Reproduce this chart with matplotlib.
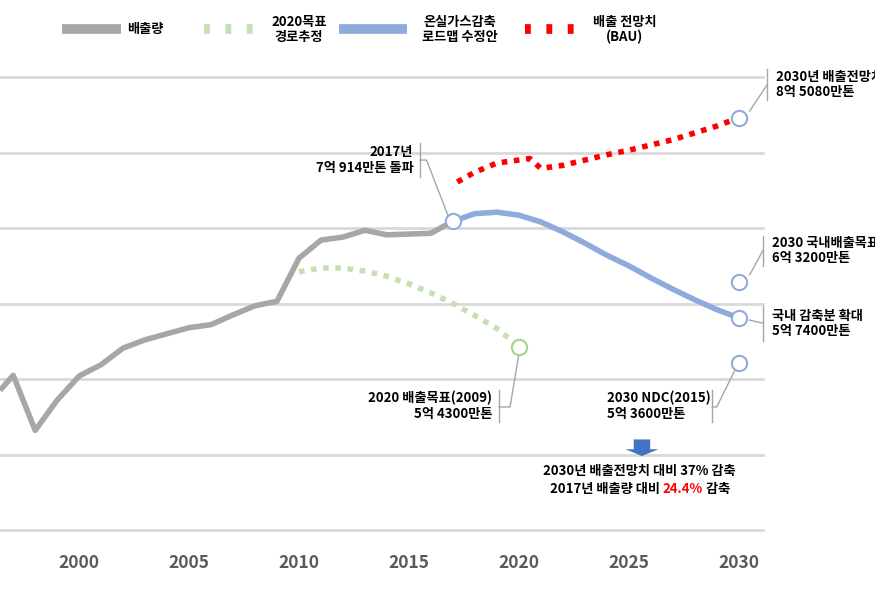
import matplotlib
matplotlib.use("Agg")
import matplotlib.pyplot as plt
from matplotlib.patches import FancyArrow

plt.rcParams["font.family"] = ["Noto Sans CJK KR", "DejaVu Sans"]

# values in Mt CO2eq
hist_years = [1996.4, 1997, 1998, 1999, 2000, 2001, 2002, 2003, 2004, 2005, 2006,
              2007, 2008, 2009, 2010, 2011, 2012, 2013, 2014, 2015, 2016, 2017]
hist_vals = [485, 505, 432, 472, 504, 519, 541, 552, 560, 568, 572,
             585, 597, 603, 660, 684, 688, 697, 691, 692, 693, 709]
target_years = [2010, 2011, 2012, 2013, 2014, 2015, 2016, 2017, 2018, 2019, 2020]
target_vals = [642, 647, 647, 643, 636, 626, 614, 600, 584, 567, 543]
road_years = [2017, 2018, 2019, 2020, 2021, 2022, 2023, 2024, 2025, 2026, 2027, 2028, 2029, 2030]
road_vals = [709, 719, 721, 717, 708, 695, 680, 664, 650, 634, 619, 605, 592, 581]
bau_years = [2017.2, 2018, 2019, 2020, 2020.5, 2021, 2022, 2023, 2024, 2025, 2026, 2027, 2028, 2029, 2030]
bau_vals = [761, 774, 786, 790, 792, 779, 783, 790, 797, 803, 810, 817, 826, 835, 846]
grid_vals = [300, 400, 500, 600, 700, 800, 900]
tick_years = [2000, 2005, 2010, 2015, 2020, 2025, 2030]

GRAY = "#aaa6a6"
GREEN = "#c6e0b4"
BLUE = "#8faadc"
RED = "#ff0000"

fig = plt.figure(figsize=(8.75, 5.93), dpi=100)
ax = fig.add_axes([0, 0, 1, 1])
ax.set_xlim(1996.4, 2036.2)
ax.set_ylim(216.6, 1002)
ax.axis("off")

for g in grid_vals:
    ax.plot([1996.4, 2031.1], [g, g], color="#d9d9d9", lw=2, zorder=1)

ax.plot(hist_years, hist_vals, color=GRAY, lw=4, zorder=3, solid_capstyle="butt")
ax.plot(target_years, target_vals, color=GREEN, lw=4, ls=(0, (1, 1.2)), zorder=3)
ax.plot(road_years, road_vals, color=BLUE, lw=4, zorder=3)
ax.plot(bau_years, bau_vals, color=RED, lw=4, ls=(0, (1, 1.2)), zorder=3)

circ = dict(marker="o", ms=11, mfc="white", mew=1.5, zorder=5, ls="none")
ax.plot([2017], [709], mec=BLUE, **circ)
ax.plot([2030, 2030, 2030, 2030], [846, 628, 581, 521], mec=BLUE, **circ)
ax.plot([2020], [543], mec="#a9d18e", **circ)

for y in tick_years:
    ax.text(y, 256, str(y), ha="center", va="center", fontsize=12.5,
            fontweight="bold", color="#595959")

fs = 9.5
lc = "#a6a6a6"


def callout(pts, bracket, text, tx, ha):
    xs, ys = zip(*pts)
    ax.plot(xs, ys, color=lc, lw=1, zorder=2)
    ax.plot([bracket[0], bracket[0]], bracket[1:], color=lc, lw=1, zorder=2)
    ax.text(tx, (bracket[1] + bracket[2]) / 2, text, ha=ha, va="center",
            fontsize=fs, fontweight="bold", linespacing=1.15)


callout([(2016.8, 715), (2015.8, 790), (2015.5, 790)], (2015.5, 768, 812),
        "2017년\n7억 914만톤 돌파", 2015.2, "right")
callout([(2030.5, 855), (2031.3, 890)], (2031.3, 870, 910),
        "2030년 배출전망치\n8억 5080만톤", 2031.7, "left")
callout([(2030.5, 638), (2031.1, 670)], (2031.1, 650, 690),
        "2030 국내배출목표\n6억 3200만톤", 2031.5, "left")
callout([(2030.5, 578), (2031.1, 574)], (2031.1, 550, 597),
        "국내 감축분 확대\n5억 7400만톤", 2031.5, "left")
callout([(2020, 533), (2019.6, 463), (2019.1, 463)], (2019.1, 443, 485),
        "2020 배출목표(2009)\n5억 4300만톤", 2018.8, "right")
callout([(2029.8, 510), (2029.0, 463), (2028.8, 463)], (2028.8, 443, 485),
        "2030 NDC(2015)\n5억 3600만톤", 2024.0, "left")

# blue block arrow pointing down
ax.add_patch(FancyArrow(2025.6, 420, 0, -22, width=0.75, head_width=1.5,
                        head_length=9, length_includes_head=True,
                        color="#4472c4", lw=0, zorder=4))
ax.text(2025.5, 378, "2030년 배출전망치 대비 37% 감축", ha="center", va="center",
        fontsize=fs, fontweight="bold")

# second line composed of three pieces, centred
parts = [("2017년 배출량 대비 ", "black"), ("24.4%", RED), (" 감축", "black")]
fig.canvas.draw()
renderer = fig.canvas.get_renderer()
objs = []
for s, c in parts:
    objs.append(ax.text(0, 355, s, ha="left", va="center", fontsize=fs,
                        fontweight="bold", color=c))
widths = [o.get_window_extent(renderer).width for o in objs]
px_per_year = fig.bbox.width / (2036.2 - 1996.4)
total = sum(widths) / px_per_year
x0 = 2025.5 - total / 2
for o, w in zip(objs, widths):
    o.set_x(x0)
    x0 += w / px_per_year

# legend (top)
ly = 963
ax.plot([1999.2, 2001.9], [ly, ly], color=GRAY, lw=7, solid_capstyle="butt")
ax.text(2002.2, ly, "배출량", va="center", fontsize=fs, fontweight="bold")
ax.plot([2005.7, 2008.3], [ly, ly], color=GREEN, lw=7, ls=(0, (0.6, 1.6)))
ax.text(2010.0, ly, "2020목표\n경로추정", ha="center", va="center", fontsize=fs,
        fontweight="bold", linespacing=1.1)
ax.plot([2011.8, 2014.9], [ly, ly], color=BLUE, lw=7, solid_capstyle="butt")
ax.text(2017.3, ly, "온실가스감축\n로드맵 수정안", ha="center", va="center", fontsize=fs,
        fontweight="bold", linespacing=1.1)
ax.plot([2020.3, 2022.8], [ly, ly], color=RED, lw=7, ls=(0, (0.6, 1.6)))
ax.text(2024.8, ly, "배출 전망치\n(BAU)", ha="center", va="center", fontsize=fs,
        fontweight="bold", linespacing=1.1)

fig.savefig("out.png", dpi=100)
